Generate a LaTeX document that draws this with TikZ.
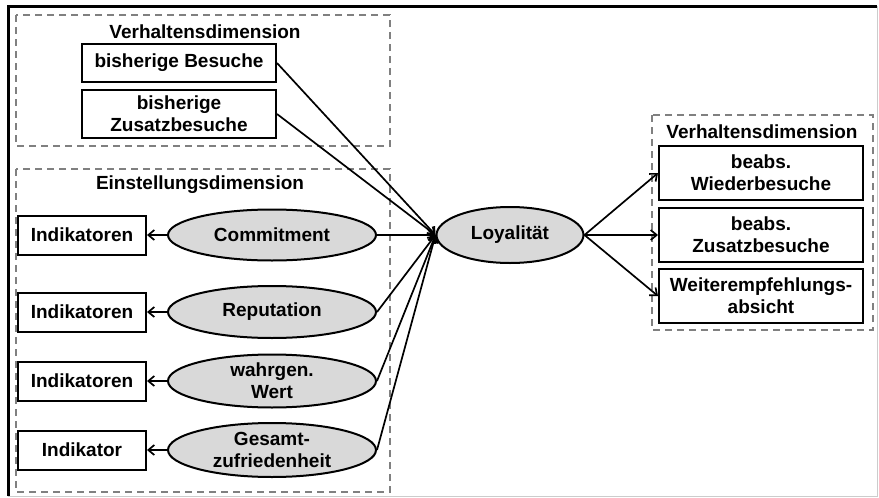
\documentclass[tikz,border=0pt]{standalone}
\usepackage{fontspec}
\setmainfont{Liberation Sans}
\usetikzlibrary{arrows.meta,shapes.geometric}
\begin{document}
\begin{tikzpicture}[x=1pt,y=-1pt,
  font=\fontsize{19}{22}\selectfont\bfseries,
  box/.style={draw, line width=2pt, rectangle, inner sep=0pt, align=center, fill=white},
  ell/.style={draw, line width=2pt, ellipse, fill=gray!30, inner sep=0pt, align=center},
  grp/.style={draw=gray, dash pattern=on 7pt off 5pt, line width=1.3pt},
  arr/.style={line width=1.7pt, -{Straight Barb[length=6pt,width=10pt]}},
]
\useasboundingbox (0,0) rectangle (879,498);
\fill[white] (0,0) rectangle (879,498);
% outer frame
\draw[gray!40, line width=1pt] (877,6) -- (877,496) -- (8,496);
\draw[line width=3pt] (8,496) -- (8,6) -- (877,6);

% groups
\draw[grp] (16,15) rectangle (390,146);
\draw[grp] (16,169) rectangle (390,492);
\draw[grp] (652,115) rectangle (873,330);

\node (t1) at (205,32) {Verhaltensdimension};
\node (t2) at (200,185) {Einstellungsdimension};
\node (t3) at (762,132) {Verhaltensdimension};

% top boxes
\node[box, minimum width=194pt, minimum height=38pt] (b1) at (179,63) {bisherige Besuche};
\node[box, minimum width=194pt, minimum height=48pt] (b2) at (179,114) {bisherige\\Zusatzbesuche};

% indicator boxes
\node[box, minimum width=128pt, minimum height=39pt] (i1) at (82,235) {Indikatoren};
\node[box, minimum width=128pt, minimum height=39pt] (i2) at (82,312) {Indikatoren};
\node[box, minimum width=128pt, minimum height=39pt] (i3) at (82,381) {Indikatoren};
\node[box, minimum width=128pt, minimum height=39pt] (i4) at (82,450) {Indikator};

% ellipses
\node[ell, minimum width=208pt, minimum height=51pt] (e1) at (272,235) {Commitment};
\node[ell, minimum width=208pt, minimum height=52pt] (e2) at (272,312) {Reputation};
\node[ell, minimum width=208pt, minimum height=53pt] (e3) at (272,381) {wahrgen.\\Wert};
\node[ell, minimum width=208pt, minimum height=54pt] (e4) at (272,450) {Gesamt-\\zufriedenheit};

\node[ell, minimum width=147pt, minimum height=56pt] (lo) at (510,235) {Loyalität};

% right boxes
\node[box, minimum width=204pt, minimum height=54pt] (r1) at (761,173) {beabs.\\Wiederbesuche};
\node[box, minimum width=204pt, minimum height=54pt] (r2) at (761,235) {beabs.\\Zusatzbesuche};
\node[box, minimum width=204pt, minimum height=54pt] (r3) at (761,296) {Weiterempfehlungs-\\absicht};

% arrows
\foreach \a/\b in {e1/i1,e2/i2,e3/i3,e4/i4}
  \draw[arr] (\a.west) -- (\b.east);
\foreach \a in {b1,b2,e1,e2,e3,e4}
  \draw[arr] (\a.east) -- (lo.west);
\foreach \b in {r1,r2,r3}
  \draw[arr] (lo.east) -- (\b.west);
\end{tikzpicture}
\end{document}
